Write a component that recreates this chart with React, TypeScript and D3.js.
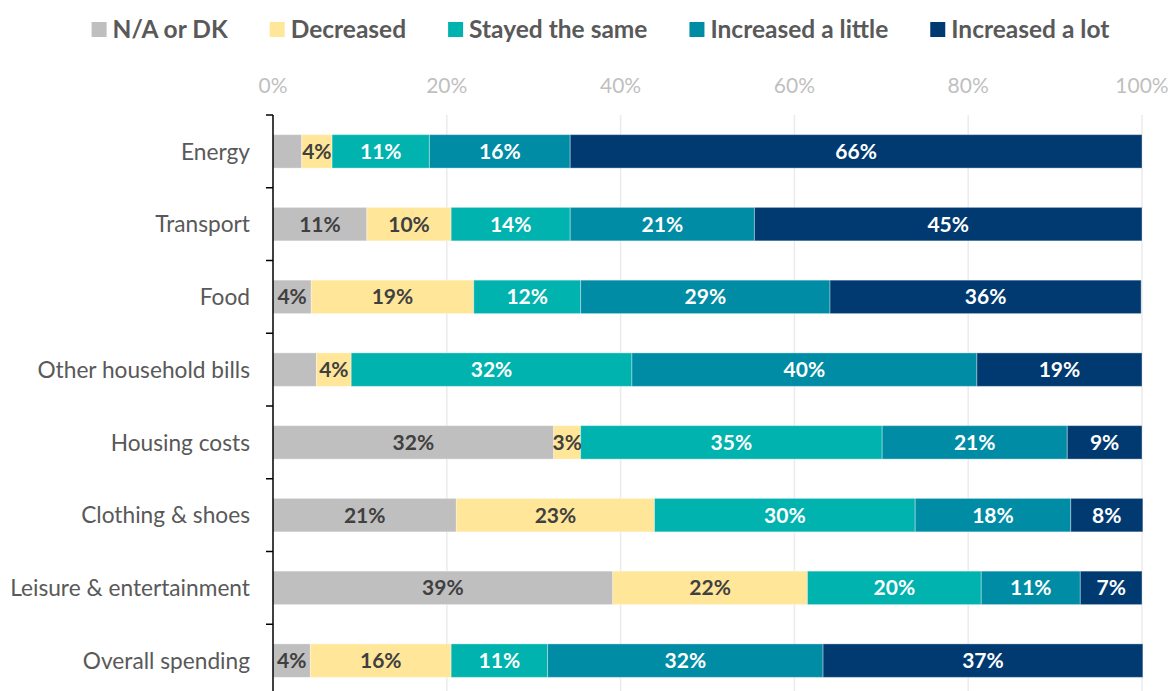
import { useEffect, useRef } from "react"
import * as d3 from "d3"

const categories = [
  "Energy",
  "Transport",
  "Food",
  "Other household bills",
  "Housing costs",
  "Clothing & shoes",
  "Leisure & entertainment",
  "Overall spending",
]

const seriesNames = ["N/A or DK", "Decreased", "Stayed the same", "Increased a little", "Increased a lot"]
const seriesColors = ["#BFBFBF", "#FFE699", "#00B3AE", "#008CA4", "#003A70"]
const labelColors = ["#404040", "#404040", "#FFFFFF", "#FFFFFF", "#FFFFFF"]

const naDk = [3.3, 10.8, 4.4, 5.0, 32.3, 21.1, 39.1, 4.3]
const decreased = [3.5, 9.7, 18.7, 4.0, 3.1, 22.8, 22.4, 16.2]
const stayedSame = [11.2, 13.7, 12.3, 32.3, 34.7, 30.0, 20.0, 11.1]
const increasedLittle = [16.2, 21.2, 28.7, 39.7, 21.3, 17.9, 11.4, 31.7]
const increasedLot = [65.8, 44.6, 35.8, 19.0, 8.6, 8.3, 7.1, 36.8]

const xTicks = [0, 20, 40, 60, 80, 100]

// cells whose value label is not shown in the original
const hiddenLabels = [
  ["Energy", "N/A or DK"],
  ["Other household bills", "N/A or DK"],
]

const FONT = "Lato, 'Open Sans', sans-serif"

export default function App() {
  const svgRef = useRef<SVGSVGElement>(null)

  useEffect(() => {
    if (!svgRef.current) return
    const width = 1171
    const height = 691
    const margin = { top: 115, left: 273, right: 29 }

    const root = d3.select(svgRef.current)
    root.selectAll("*").remove()
    root.attr("width", width).attr("height", height)

    const seriesValues = [naDk, decreased, stayedSame, increasedLittle, increasedLot]
    const rows = categories.map((c, i) => {
      const row: any = { category: c }
      seriesNames.forEach((s, j) => (row[s] = seriesValues[j][i]))
      return row
    })
    const stacked = d3.stack().keys(seriesNames)(rows)

    const x = d3.scaleLinear().domain([0, 100]).range([margin.left, width - margin.right])
    const y = d3
      .scaleBand()
      .domain(categories)
      .range([margin.top, margin.top + categories.length * 72.75])
      .paddingInner(0.54)
      .paddingOuter(0.27)
    const step = y.step()
    const yTop = margin.top
    const yBottom = margin.top + step * categories.length

    // gridlines
    root
      .append("g")
      .selectAll("line")
      .data(xTicks.filter((t) => t > 0))
      .enter()
      .append("line")
      .attr("x1", (d) => x(d))
      .attr("x2", (d) => x(d))
      .attr("y1", yTop)
      .attr("y2", yBottom)
      .attr("stroke", "#EBEBEB")
      .attr("stroke-width", 1.5)

    // top axis labels
    root
      .append("g")
      .selectAll("text")
      .data(xTicks)
      .enter()
      .append("text")
      .attr("x", (d) => x(d))
      .attr("y", 93)
      .attr("text-anchor", "middle")
      .style("font-family", FONT)
      .style("font-size", "21px")
      .style("fill", "#BFBFBF")
      .text((d) => d + "%")

    // bars
    const color = d3.scaleOrdinal<string>().domain(seriesNames).range(seriesColors)
    const layers = root
      .append("g")
      .selectAll("g")
      .data(stacked)
      .enter()
      .append("g")
      .attr("fill", (d) => color(d.key))

    layers
      .selectAll("rect")
      .data((d) => d)
      .enter()
      .append("rect")
      .attr("x", (d) => x(d[0]))
      .attr("y", (d: any) => y(d.data.category) as number)
      .attr("width", (d) => x(d[1]) - x(d[0]))
      .attr("height", y.bandwidth())
      .attr("stroke", "#ffffff")
      .attr("stroke-opacity", 0.35)
      .attr("stroke-width", 1)

    // value labels
    stacked.forEach((layer, j) => {
      root
        .append("g")
        .selectAll("text")
        .data(layer.filter((d: any) => !hiddenLabels.some((h) => h[0] === d.data.category && h[1] === layer.key)))
        .enter()
        .append("text")
        .attr("x", (d) => (x(d[0]) + x(d[1])) / 2)
        .attr("y", (d: any) => (y(d.data.category) as number) + y.bandwidth() / 2)
        .attr("dy", "0.36em")
        .attr("text-anchor", "middle")
        .style("font-family", FONT)
        .style("font-size", "21px")
        .style("font-weight", "bold")
        .style("fill", labelColors[j])
        .text((d) => Math.round(d[1] - d[0]) + "%")
    })

    // y axis
    const axis = root.append("g")
    axis
      .append("line")
      .attr("x1", x(0))
      .attr("x2", x(0))
      .attr("y1", yTop)
      .attr("y2", yBottom)
      .attr("stroke", "#000")
      .attr("stroke-width", 1.5)
    axis
      .selectAll("line.tick")
      .data(d3.range(categories.length + 1))
      .enter()
      .append("line")
      .attr("class", "tick")
      .attr("x1", x(0) - 7)
      .attr("x2", x(0))
      .attr("y1", (i) => yTop + i * step)
      .attr("y2", (i) => yTop + i * step)
      .attr("stroke", "#000")
      .attr("stroke-width", 1.5)
    axis
      .selectAll("text")
      .data(categories)
      .enter()
      .append("text")
      .attr("x", x(0) - 23)
      .attr("y", (d) => (y(d) as number) + y.bandwidth() / 2)
      .attr("dy", "0.36em")
      .attr("text-anchor", "end")
      .style("font-family", FONT)
      .style("font-size", "22.7px")
      .style("fill", "#595959")
      .text((d) => d)

    // legend
    const legend = root.append("g")
    const items = seriesNames.map((s, i) => {
      const g = legend.append("g")
      g.append("rect").attr("x", 0).attr("y", 22).attr("width", 15).attr("height", 15).attr("fill", seriesColors[i])
      const t = g
        .append("text")
        .attr("x", 21)
        .attr("y", 38)
        .style("font-family", FONT)
        .style("font-size", "24.5px")
        .style("font-weight", "bold")
        .style("fill", "#595959")
        .text(s)
      const w = 21 + (t.node() as SVGTextElement).getComputedTextLength()
      return { g, w }
    })
    const gap = 42
    const total = d3.sum(items, (d) => d.w) + gap * (items.length - 1)
    let cx = 600.5 - total / 2
    items.forEach((it) => {
      it.g.attr("transform", `translate(${cx},0)`)
      cx += it.w + gap
    })
  }, [])

  return (
    <div style={{ position: "absolute", left: 0, top: 0 }}>
      <svg ref={svgRef} style={{ display: "block", background: "#fff" }}></svg>
    </div>
  )
}
